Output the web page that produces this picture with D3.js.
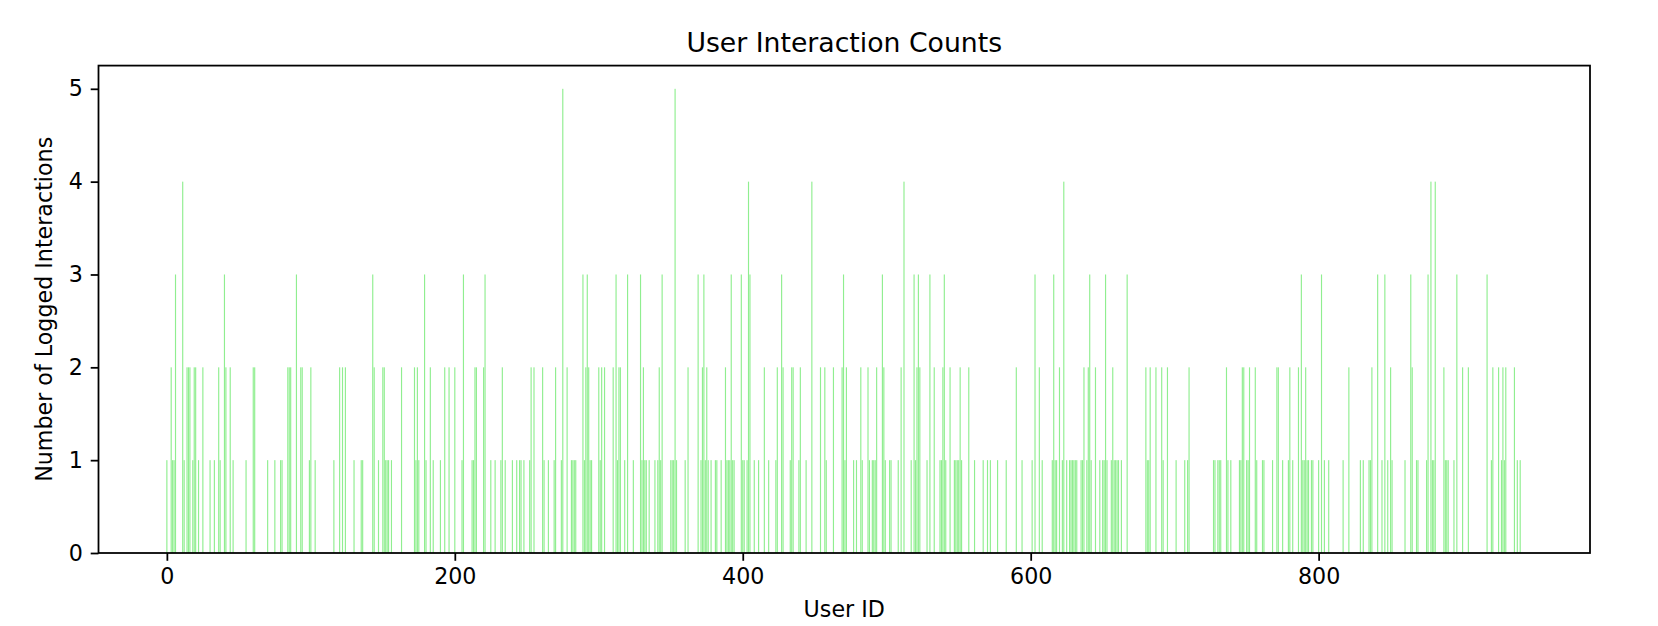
<!DOCTYPE html>
<html>
<head>
<meta charset="utf-8">
<script src="https://cdn.jsdelivr.net/npm/d3@7"></script>
<style>
  html, body { margin: 0; padding: 0; background: #fff; }
  svg { display: block; font-family: "DejaVu Sans", sans-serif; }
</style>
</head>
<body>
<svg id="chart" width="1658" height="626"></svg>
<script>
// ---- data (non-zero users only; all other users have 0) ----
const numUsers = 942;
const userIds = [
  0,3,4,5,6,11,12,14,15,16,18,19,20,22,25,30,33,36,37,40,41,44,46,55,60,61,70,
  75,79,80,84,85,86,90,93,94,99,100,103,116,120,122,124,130,135,136,143,144,147,150,151,152,153,
  154,156,163,172,173,174,175,179,180,183,185,190,193,196,200,205,206,212,213,214,215,220,221,225,228,232,233,
  235,240,243,245,246,248,252,253,255,261,262,265,269,270,274,275,278,281,282,283,284,289,290,291,292,293,294,295,300,301,302,304,310,
  312,313,314,315,318,320,324,329,330,331,332,333,335,339,341,342,343,344,350,351,352,353,354,360,362,369,371,372,373,374,375,376,378,381,382,385,388,389,390,
  391,392,393,394,399,400,401,403,404,405,408,411,415,418,423,424,427,428,433,434,435,439,440,444,448,454,457,458,463,469,470,
  471,472,477,479,482,483,487,488,490,491,492,493,497,498,499,502,503,508,510,512,517,519,520,521,522,523,528,530,533,537,538,539,540,541,544,547,548,
  549,550,551,552,557,561,567,570,572,577,583,590,594,601,603,606,608,615,616,617,618,620,622,623,625,627,
  628,629,630,631,632,635,636,637,639,640,641,642,645,648,650,651,652,653,656,657,658,659,660,661,663,667,680,681,682,683,687,691,692,695,701,
  707,709,710,727,728,730,731,732,736,737,739,745,746,747,748,750,751,752,756,757,761,762,768,771,772,775,779,780,782,786,
  788,789,790,791,792,793,795,796,800,802,804,807,817,821,829,831,835,836,837,841,844,846,848,850,851,860,864,865,
  868,869,875,876,878,879,880,881,887,888,889,890,894,896,900,904,917,920,921,925,927,928,929,930,936,938,940
];
const counts = [
  1,2,1,1,3,4,1,2,2,2,1,2,2,1,2,1,1,2,1,3,2,2,1,1,2,2,1,
  1,1,1,2,2,2,3,2,2,1,2,1,1,2,2,2,1,1,1,3,2,1,2,2,1,1,
  1,1,2,2,1,2,1,3,1,2,1,1,2,2,2,1,3,1,1,2,2,2,3,1,1,1,2,
  1,1,1,1,1,1,1,2,2,2,1,1,1,2,1,5,2,1,1,1,1,3,1,2,3,2,1,1,2,1,2,2,2,
  3,1,2,2,1,3,1,3,1,2,1,1,1,1,1,2,1,3,1,1,1,5,1,1,2,3,1,2,3,1,2,1,1,1,1,1,2,1,1,
  1,3,1,1,3,1,1,1,4,3,1,1,2,1,1,2,3,2,1,2,2,1,2,1,4,2,2,1,2,2,3,
  1,2,1,1,2,1,2,1,1,1,1,2,3,2,1,1,1,1,2,4,1,3,1,2,3,2,1,3,2,1,1,2,3,1,2,1,1,
  1,1,2,1,2,1,1,1,1,1,1,2,1,1,3,2,1,1,3,1,1,2,1,4,1,1,
  1,1,1,1,1,1,1,2,1,2,3,1,2,1,1,1,3,1,1,2,1,1,1,1,1,3,2,1,1,2,2,2,1,2,1,
  1,1,2,1,1,1,1,1,2,1,1,1,1,2,2,1,1,2,2,1,1,1,1,2,2,1,1,2,1,2,
  3,1,1,2,1,1,1,1,1,3,1,1,1,2,1,1,1,1,2,3,1,3,1,2,1,1,3,2,
  1,1,1,3,4,1,1,4,2,1,1,1,1,3,2,2,3,1,2,2,1,2,1,2,2,1,1
];
const xTicks = [0, 200, 400, 600, 800];
const yTicks = [0, 1, 2, 3, 4, 5];
const titleText = "User Interaction Counts";
const xLabelText = "User ID";
const yLabelText = "Number of Logged Interactions";

// ---- layout ----
const m = { left: 98.5, right: 1590, top: 65.6, bottom: 553 };
const barW = 0.8;
const span = (numUsers - 1 + barW / 2) - (-barW / 2);
const xMin = -barW / 2 - 0.05 * span, xMax = numUsers - 1 + barW / 2 + 0.05 * span;

const x = d3.scaleLinear().domain([xMin, xMax]).range([m.left, m.right]);
const y = d3.scaleLinear().domain([0, 5.25]).range([m.bottom, m.top]);

const svg = d3.select("#chart");
const data = userIds.map((id, i) => ({ id, v: counts[i] }));

svg.append("g").selectAll("rect").data(data).join("rect")
  .attr("x", d => x(d.id - barW / 2))
  .attr("width", d => x(d.id + barW / 2) - x(d.id - barW / 2))
  .attr("y", d => y(d.v))
  .attr("height", d => y(0) - y(d.v))
  .attr("fill", "#90ee90");

const fs = 22.2, lw = 1.78, tl = 7.8;
const xAxis = svg.append("g").attr("transform", `translate(0,${m.bottom})`)
  .call(d3.axisBottom(x).tickValues(xTicks).tickFormat(d3.format("d")).tickSizeOuter(0).tickSize(tl).tickPadding(tl));
const yAxis = svg.append("g").attr("transform", `translate(${m.left},0)`)
  .call(d3.axisLeft(y).tickValues(yTicks).tickFormat(d3.format("d")).tickSizeOuter(0).tickSize(tl).tickPadding(tl));
[xAxis, yAxis].forEach(g => {
  g.select(".domain").remove();
  g.selectAll("line").attr("stroke", "#000").attr("stroke-width", lw);
  g.selectAll("text").attr("fill", "#000").style("font-size", fs + "px").style("font-family", "DejaVu Sans");
});

svg.append("rect")
  .attr("x", m.left).attr("y", m.top)
  .attr("width", m.right - m.left).attr("height", m.bottom - m.top)
  .attr("fill", "none").attr("stroke", "#000").attr("stroke-width", lw);

svg.append("text").attr("x", (m.left + m.right) / 2).attr("y", m.top - 13.3)
  .attr("text-anchor", "middle").style("font-size", "26.7px").text(titleText);
svg.append("text").attr("x", (m.left + m.right) / 2).attr("y", 617)
  .attr("text-anchor", "middle").style("font-size", fs + "px").text(xLabelText);
svg.append("text").attr("transform", `translate(52,${(m.top + m.bottom) / 2}) rotate(-90)`)
  .attr("text-anchor", "middle").style("font-size", fs + "px").text(yLabelText);
</script>
</body>
</html>
